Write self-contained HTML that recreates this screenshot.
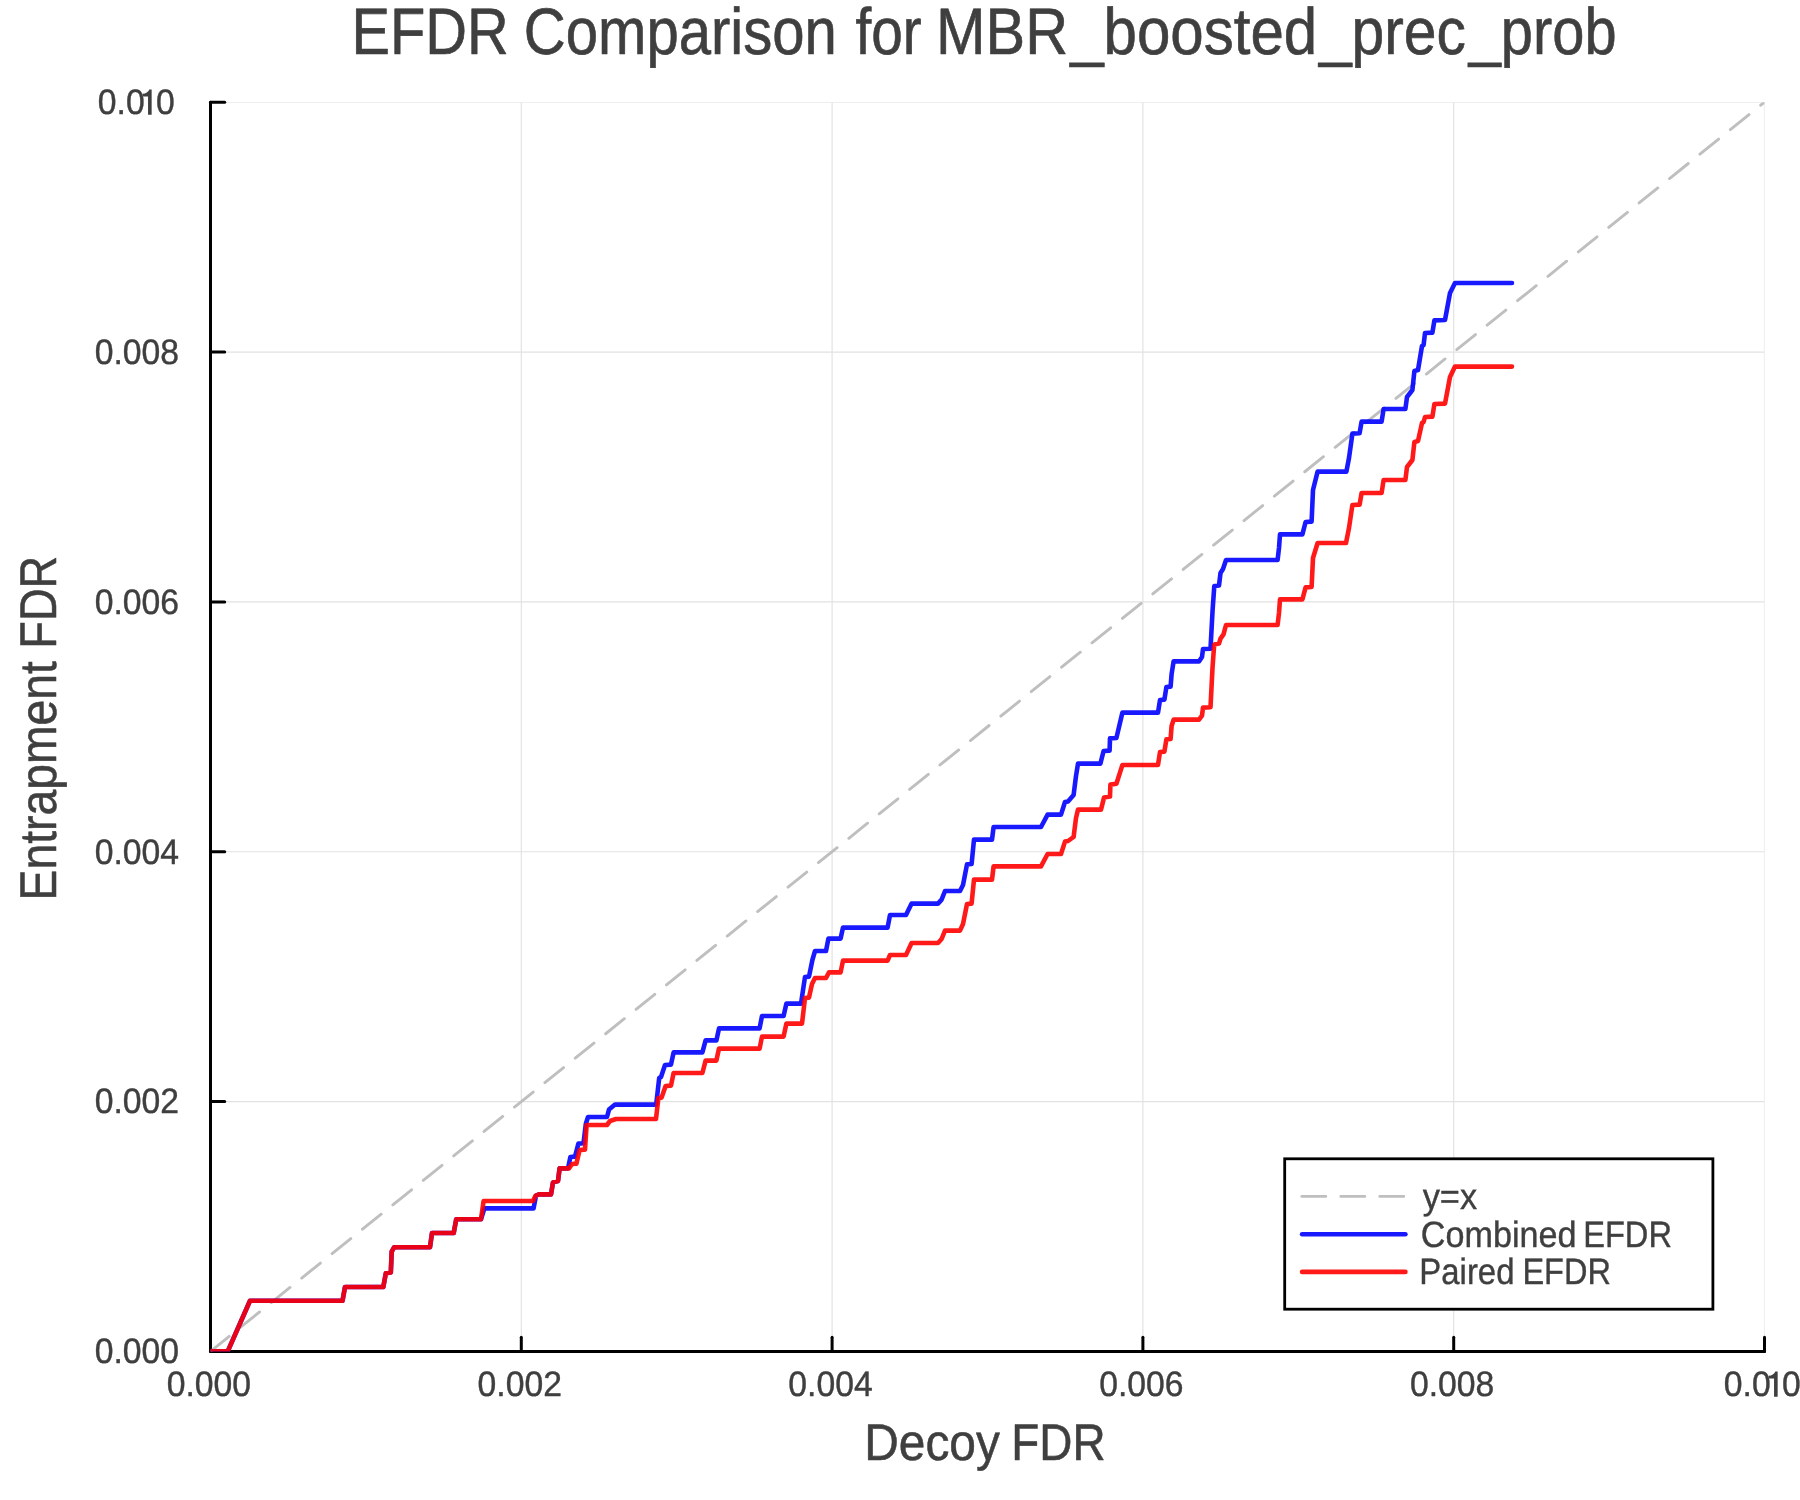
<!DOCTYPE html>
<html><head><meta charset="utf-8"><title>EFDR Comparison</title>
<style>html,body{margin:0;padding:0;background:#fff;}svg{display:block;will-change:transform;}text{font-family:"Liberation Sans",sans-serif;fill:#3f3f3f;stroke:#3f3f3f;stroke-width:0.4;stroke-linejoin:round;text-rendering:geometricPrecision;}</style></head><body>
<svg width="1800" height="1500" viewBox="0 0 1800 1500">
<rect width="1800" height="1500" fill="#fff"/>
<defs><clipPath id="pa"><rect x="210.5" y="102.2" width="1554.0" height="1249.2"/></clipPath></defs>
<g stroke="#e2e2e2" stroke-width="1.15" fill="none" clip-path="url(#pa)">
<line x1="521.3" y1="102.2" x2="521.3" y2="1351.4"/>
<line x1="832.1" y1="102.2" x2="832.1" y2="1351.4"/>
<line x1="1142.9" y1="102.2" x2="1142.9" y2="1351.4"/>
<line x1="1453.7" y1="102.2" x2="1453.7" y2="1351.4"/>
<line x1="1764.5" y1="102.2" x2="1764.5" y2="1351.4"/>
<line x1="210.5" y1="1101.6" x2="1764.5" y2="1101.6"/>
<line x1="210.5" y1="851.7" x2="1764.5" y2="851.7"/>
<line x1="210.5" y1="601.9" x2="1764.5" y2="601.9"/>
<line x1="210.5" y1="352.1" x2="1764.5" y2="352.1"/>
<line x1="210.5" y1="102.2" x2="1764.5" y2="102.2"/>
</g>
<g stroke="#000" stroke-width="3.0" fill="none" stroke-linecap="round">
<line x1="210.50" y1="102.25" x2="210.50" y2="1351.40"/>
<line x1="210.50" y1="1351.40" x2="1764.50" y2="1351.40"/>
<line x1="521.30" y1="1351.40" x2="521.30" y2="1337.20"/>
<line x1="832.10" y1="1351.40" x2="832.10" y2="1337.20"/>
<line x1="1142.90" y1="1351.40" x2="1142.90" y2="1337.20"/>
<line x1="1453.70" y1="1351.40" x2="1453.70" y2="1337.20"/>
<line x1="1764.50" y1="1351.40" x2="1764.50" y2="1337.20"/>
<line x1="210.50" y1="1101.57" x2="224.70" y2="1101.57"/>
<line x1="210.50" y1="851.74" x2="224.70" y2="851.74"/>
<line x1="210.50" y1="601.91" x2="224.70" y2="601.91"/>
<line x1="210.50" y1="352.08" x2="224.70" y2="352.08"/>
<line x1="210.50" y1="102.25" x2="224.70" y2="102.25"/>
</g>
<g clip-path="url(#pa)" fill="none" stroke-linejoin="round" stroke-linecap="round">
<line x1="210.5" y1="1351.4" x2="1764.5" y2="102.2" stroke="#bfbfbf" stroke-width="2.9" stroke-dasharray="24 15" stroke-linecap="round"/>
<polyline points="210.5,1351.4 227.7,1351.4 250.0,1300.8 342.5,1300.8 345.0,1287.0 383.3,1287.0 385.8,1273.3 390.8,1272.5 391.7,1251.7 394.2,1247.2 430.0,1247.2 432.0,1233.0 453.7,1233.0 456.2,1219.3 481.0,1219.3 484.4,1208.4 533.6,1208.4 536.0,1195.6 539.0,1194.4 551.0,1194.4 553.0,1182.4 558.0,1181.0 559.6,1168.4 568.0,1168.4 570.4,1157.0 575.0,1156.6 578.4,1143.6 583.5,1143.2 585.8,1124.0 588.0,1117.0 607.0,1117.0 609.0,1109.6 615.0,1104.6 656.2,1104.6 659.2,1078.0 661.0,1077.0 665.0,1065.0 671.0,1064.6 673.6,1052.4 702.4,1052.4 705.6,1040.4 716.4,1040.4 719.0,1028.4 759.6,1028.4 762.0,1016.0 783.6,1016.0 786.4,1003.6 801.0,1003.6 805.0,977.0 809.0,976.6 812.4,960.0 815.0,951.0 826.0,951.0 828.4,938.6 840.6,938.6 843.0,927.6 887.6,927.6 890.0,915.0 906.0,915.0 911.6,903.6 938.0,903.6 941.6,899.6 945.0,891.0 960.0,891.0 963.0,885.0 967.0,864.4 971.6,864.0 974.0,839.6 992.0,839.6 993.6,827.0 1041.0,827.0 1047.6,814.6 1061.0,814.6 1065.0,802.0 1068.0,801.4 1073.6,795.0 1076.0,776.0 1078.0,763.6 1100.4,763.6 1103.6,751.0 1109.6,750.6 1110.0,738.4 1116.4,738.0 1122.4,712.6 1158.0,712.6 1160.0,700.0 1164.4,699.6 1166.4,687.0 1170.6,686.6 1171.6,674.0 1173.6,661.4 1199.0,661.4 1202.0,657.0 1203.0,649.0 1210.5,648.8 1212.6,610.0 1214.3,586.0 1219.0,585.4 1220.5,573.0 1223.0,569.0 1226.0,560.0 1277.6,560.0 1279.0,548.0 1280.0,534.4 1302.4,534.4 1305.6,522.0 1311.6,521.6 1313.0,490.0 1317.6,471.6 1346.4,471.6 1349.0,458.0 1352.4,433.6 1359.6,433.2 1361.6,421.6 1381.6,421.6 1383.6,409.0 1405.4,409.0 1407.0,397.0 1412.4,390.0 1414.4,371.0 1418.0,370.0 1422.0,346.0 1423.6,345.0 1425.0,333.0 1432.4,332.6 1434.4,320.4 1445.0,320.0 1450.0,293.0 1455.0,283.0 1512.0,283.0" stroke="#0000ff" stroke-opacity="0.9" stroke-width="4.6"/>
<polyline points="210.5,1351.4 227.7,1351.4 250.0,1300.8 342.5,1300.8 345.0,1287.0 383.3,1287.0 385.8,1273.3 390.8,1272.5 391.7,1251.7 394.2,1247.2 430.0,1247.2 432.0,1233.0 453.7,1233.0 456.2,1219.3 481.0,1219.3 483.6,1201.0 533.0,1201.0 535.6,1195.6 539.0,1194.4 551.0,1194.4 553.0,1182.4 558.0,1181.0 559.6,1168.4 569.0,1168.4 572.0,1164.0 576.4,1163.6 579.6,1150.0 585.0,1149.6 586.6,1125.0 607.0,1125.0 610.0,1121.0 616.0,1119.0 656.0,1119.0 658.4,1098.0 661.6,1097.6 665.6,1086.0 671.0,1085.6 673.6,1073.0 702.4,1073.0 705.6,1060.6 716.4,1060.6 719.0,1048.6 759.6,1048.6 762.0,1036.6 783.6,1036.6 786.4,1023.6 802.0,1023.6 805.0,998.0 809.0,997.6 812.0,984.0 815.0,978.0 826.0,978.0 829.0,972.4 840.6,972.4 843.0,960.6 887.6,960.6 890.0,955.0 906.0,955.0 911.6,943.0 938.0,943.0 941.6,939.0 945.0,930.6 960.0,930.6 963.0,924.0 967.0,904.0 971.6,903.6 974.0,879.6 992.0,879.6 993.6,866.4 1041.0,866.4 1047.6,854.0 1061.0,854.0 1065.0,841.6 1068.0,841.0 1073.6,837.0 1076.0,818.0 1078.0,809.6 1101.0,809.6 1104.0,797.6 1110.0,796.6 1110.4,784.6 1116.4,783.8 1122.4,765.0 1158.0,765.0 1160.0,752.0 1164.4,751.6 1166.4,739.4 1170.6,739.0 1171.6,726.0 1173.6,719.6 1199.0,719.6 1202.0,715.6 1203.0,707.6 1210.5,707.2 1212.5,668.0 1214.2,644.4 1219.0,643.6 1220.5,638.6 1223.5,634.4 1226.0,625.0 1277.6,625.0 1279.0,613.0 1280.0,599.4 1302.4,599.4 1305.6,587.4 1311.6,587.0 1313.0,558.0 1317.6,543.0 1346.0,543.0 1349.0,528.0 1352.4,505.0 1359.6,504.6 1361.6,493.0 1381.6,493.0 1383.6,480.0 1405.4,480.0 1407.0,467.0 1412.4,460.0 1414.4,442.0 1418.0,441.0 1422.0,423.0 1423.6,422.0 1425.0,417.0 1432.4,416.6 1434.4,404.0 1445.0,403.6 1450.0,377.0 1455.0,366.6 1512.0,366.6" stroke="#ff0000" stroke-opacity="0.9" stroke-width="4.6"/>
</g>
<text transform="translate(351.38,54.40) scale(0.8798,1)" font-size="65.70" style="stroke-width:0.65">EFDR</text>
<text transform="translate(523.80,54.40) scale(0.8839,1)" font-size="65.70" style="stroke-width:0.65">Comparison</text>
<text transform="translate(855.43,54.40) scale(0.8639,1)" font-size="65.70" style="stroke-width:0.65">for</text>
<text transform="translate(935.94,54.40) scale(0.9053,1)" font-size="65.70" style="stroke-width:0.65">MBR</text>
<text transform="translate(1070.20,54.40) scale(0.9136,1)" font-size="65.70" style="stroke-width:0.65">_boosted</text>
<text transform="translate(1318.88,54.40) scale(0.8943,1)" font-size="65.70" style="stroke-width:0.65">_prec</text>
<text transform="translate(1468.66,54.40) scale(0.8803,1)" font-size="65.70" style="stroke-width:0.65">_prob</text>
<text transform="translate(864.17,1459.70) scale(0.9281,1)" font-size="51.60" style="stroke-width:0.55">Decoy</text>
<text transform="translate(1011.33,1459.70) scale(0.8883,1)" font-size="51.60" style="stroke-width:0.55">FDR</text>
<text transform="translate(55.70,900.40) rotate(-90) scale(0.8969,1)" font-size="51.60" style="stroke-width:0.55">Entrapment</text>
<text transform="translate(55.70,648.72) rotate(-90) scale(0.8772,1)" font-size="51.60" style="stroke-width:0.55">FDR</text>
<text transform="translate(166.75,1396.15) scale(0.9549,1)" font-size="35.31">0.000</text>
<text transform="translate(477.55,1396.15) scale(0.9549,1)" font-size="35.31">0.002</text>
<text transform="translate(788.35,1396.15) scale(0.9549,1)" font-size="35.31">0.004</text>
<text transform="translate(1099.15,1396.15) scale(0.9549,1)" font-size="35.31">0.006</text>
<text transform="translate(1409.95,1396.15) scale(0.9549,1)" font-size="35.31">0.008</text>
<text transform="translate(1723.80,1396.15) scale(0.9549,1)" font-size="35.31">0.0</text>
<path fill="#3f3f3f" d="M1774.05,1396.75 L1774.05,1378.55 L1768.75,1378.55 L1768.75,1375.85 Q1773.55,1375.45 1775.35,1371.55 L1777.65,1371.55 L1777.65,1396.75 Z"/>
<text transform="translate(1782.10,1396.15) scale(0.9549,1)" font-size="35.31">0</text>
<text transform="translate(94.75,1363.25) scale(0.9549,1)" font-size="35.31">0.000</text>
<text transform="translate(94.75,1113.42) scale(0.9549,1)" font-size="35.31">0.002</text>
<text transform="translate(94.75,863.59) scale(0.9549,1)" font-size="35.31">0.004</text>
<text transform="translate(94.75,613.76) scale(0.9549,1)" font-size="35.31">0.006</text>
<text transform="translate(94.75,363.93) scale(0.9549,1)" font-size="35.31">0.008</text>
<text transform="translate(97.80,114.10) scale(0.9549,1)" font-size="35.31">0.0</text>
<path fill="#3f3f3f" d="M148.05,114.70 L148.05,96.50 L142.75,96.50 L142.75,93.80 Q147.55,93.40 149.35,89.50 L151.65,89.50 L151.65,114.70 Z"/>
<text transform="translate(156.10,114.10) scale(0.9549,1)" font-size="35.31">0</text>
<rect x="1284.7" y="1158.8" width="428.2" height="150.4" fill="#fff" stroke="#000" stroke-width="2.8"/>
<line x1="1301.8" y1="1196.4" x2="1404" y2="1196.4" stroke="#bfbfbf" stroke-width="2.9" stroke-dasharray="24 15" stroke-linecap="round"/>
<line x1="1302.1" y1="1234.2" x2="1405.4" y2="1234.2" stroke="#0000ff" stroke-opacity="0.9" stroke-width="4.6" stroke-linecap="round"/>
<line x1="1302.1" y1="1271.9" x2="1405.4" y2="1271.9" stroke="#ff0000" stroke-opacity="0.9" stroke-width="4.6" stroke-linecap="round"/>
<text transform="translate(1422.66,1208.70) scale(0.9379,1)" font-size="36.70">y=x</text>
<text transform="translate(1420.79,1247.00) scale(0.9310,1)" font-size="36.70">Combined</text>
<text transform="translate(1583.19,1247.00) scale(0.8890,1)" font-size="36.70">EFDR</text>
<text transform="translate(1419.37,1283.80) scale(0.8967,1)" font-size="36.70">Paired</text>
<text transform="translate(1522.40,1283.80) scale(0.8858,1)" font-size="36.70">EFDR</text>
</svg></body></html>
